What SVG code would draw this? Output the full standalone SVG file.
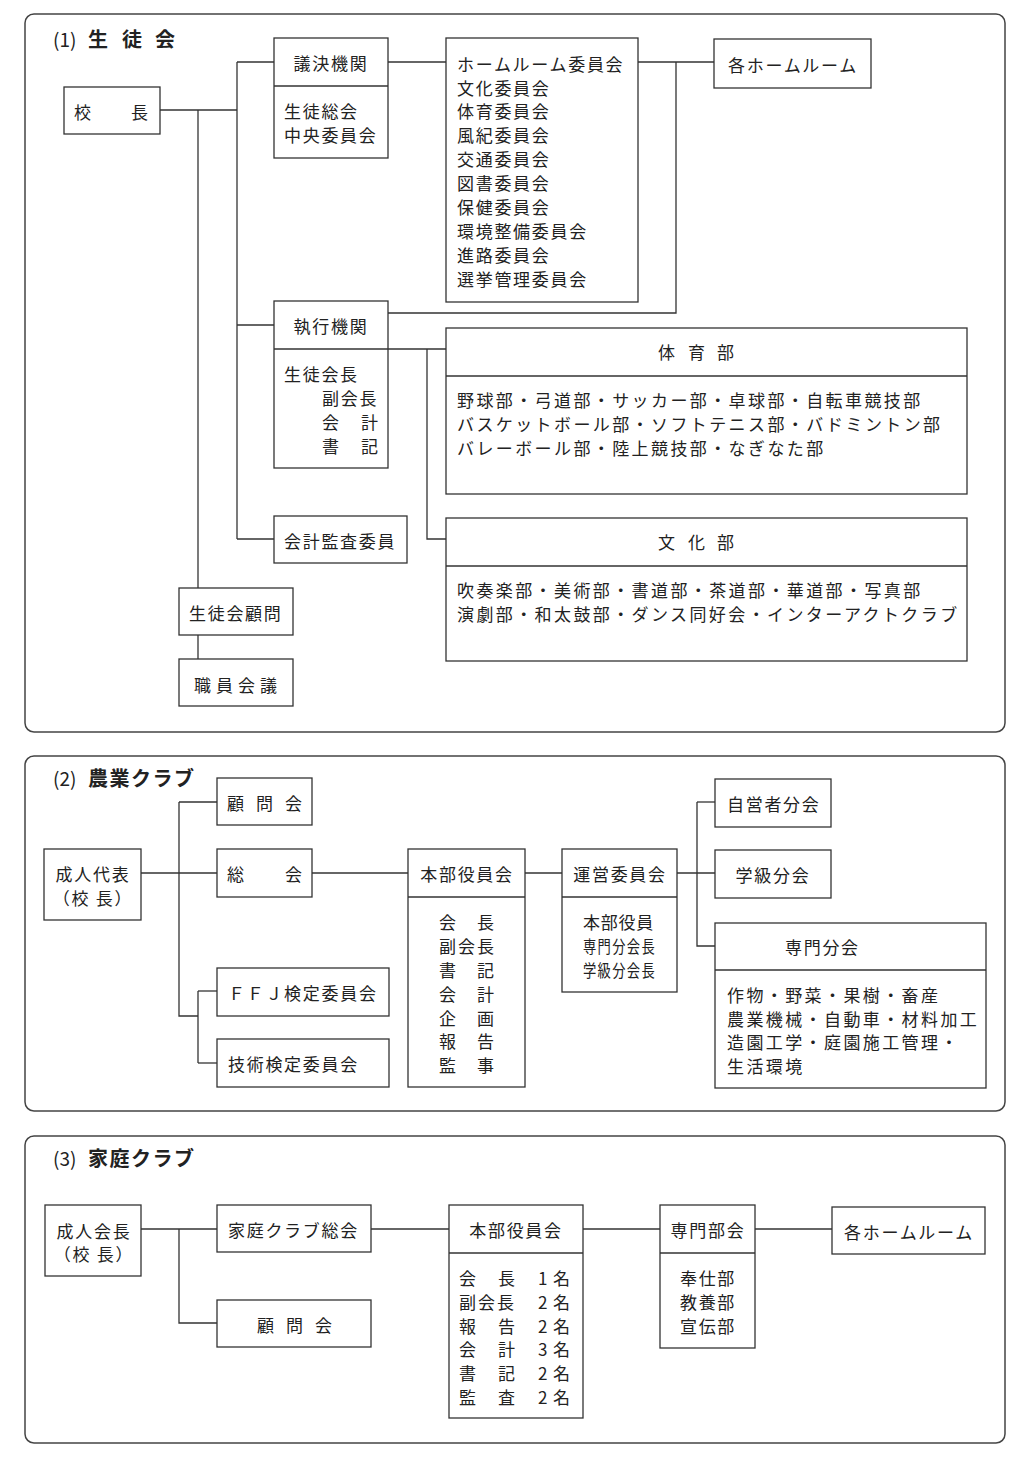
<svg xmlns="http://www.w3.org/2000/svg" width="1026" height="1482" viewBox="0 0 1026 1482">
<style>
text { font-family: "Noto Sans CJK JP", "Noto Sans", sans-serif; font-size: 17px; fill: #222; letter-spacing: 1.7px; dominant-baseline: central; }
.c { text-anchor: middle; }
.w { letter-spacing: 2.4px; }
.ttl { font-size: 20px; font-weight: bold; letter-spacing: 1.5px; }
.num { font-size: 19px; font-weight: normal; letter-spacing: 0; }
.box { fill: #fff; stroke: #333; stroke-width: 1.3; }
.div { stroke: #333; stroke-width: 1.3; }
.frame { fill: none; stroke: #444; stroke-width: 1.5; }
#connectors path { fill: none; stroke: #333; stroke-width: 1.3; }
</style>
<rect width="1026" height="1482" fill="#fff"/>

<g id="frames">
  <rect class="frame" x="25" y="14" width="980" height="718" rx="9"/>
  <rect class="frame" x="25" y="756" width="980" height="355" rx="9"/>
  <rect class="frame" x="25" y="1136" width="980" height="307" rx="9"/>
  <text class="num" x="53" y="38">(1)</text>
  <text class="ttl" x="88 122 155" y="38">生徒会</text>
  <text class="num" x="53" y="777">(2)</text>
  <text class="ttl" x="88" y="777">農業クラブ</text>
  <text class="num" x="53" y="1157">(3)</text>
  <text class="ttl" x="88" y="1157">家庭クラブ</text>
</g>

<g id="connectors">
  <!-- section 1 -->
  <path d="M160,110 H237"/>
  <path d="M198,110 V588"/>
  <path d="M198,635 V659"/>
  <path d="M237,62 V539"/>
  <path d="M237,62 H274"/>
  <path d="M237,325 H274"/>
  <path d="M237,539 H274"/>
  <path d="M388,62 H446"/>
  <path d="M638,62 H714"/>
  <path d="M676,62 V313 H388"/>
  <path d="M388,349 H446"/>
  <path d="M427,349 V539 H446"/>
  <!-- section 2 -->
  <path d="M141,873 H217"/>
  <path d="M179,802 V1016 H198"/>
  <path d="M179,802 H217"/>
  <path d="M198,991 V1063"/>
  <path d="M198,991 H217"/>
  <path d="M198,1063 H217"/>
  <path d="M312,873 H408"/>
  <path d="M525,873 H562"/>
  <path d="M677,873 H715"/>
  <path d="M697,802 V946 H715"/>
  <path d="M697,802 H715"/>
  <!-- section 3 -->
  <path d="M141,1229 H217"/>
  <path d="M179,1229 V1323 H217"/>
  <path d="M371,1229 H449"/>
  <path d="M583,1229 H660"/>
  <path d="M755,1229 H832"/>
</g>

<!-- Section 1 nodes -->
<g id="n-kocho">
  <rect class="box" x="64" y="87" width="96" height="47"/>
  <text x="74 131" y="111">校長</text>
</g>
<g id="n-giketsu">
  <rect class="box" x="274" y="38" width="114" height="120"/>
  <line class="div" x1="274" y1="86" x2="388" y2="86"/>
  <text class="c" x="331" y="62">議決機関</text>
  <text x="284" y="110">生徒総会</text>
  <text x="284" y="134">中央委員会</text>
</g>
<g id="n-iinkai">
  <rect class="box" x="446" y="38" width="192" height="264"/>
  <text x="457" y="63">ホームルーム委員会</text>
  <text x="457" y="87">文化委員会</text>
  <text x="457" y="110">体育委員会</text>
  <text x="457" y="134">風紀委員会</text>
  <text x="457" y="158">交通委員会</text>
  <text x="457" y="182">図書委員会</text>
  <text x="457" y="206">保健委員会</text>
  <text x="457" y="230">環境整備委員会</text>
  <text x="457" y="254">進路委員会</text>
  <text x="457" y="278">選挙管理委員会</text>
</g>
<g id="n-hr1">
  <rect class="box" x="714" y="39" width="157" height="49"/>
  <text class="c" x="793" y="64">各ホームルーム</text>
</g>
<g id="n-shikko">
  <rect class="box" x="274" y="301" width="114" height="167"/>
  <line class="div" x1="274" y1="349" x2="388" y2="349"/>
  <text class="c" x="331" y="325">執行機関</text>
  <text x="284" y="373">生徒会長</text>
  <text x="322" y="397">副会長</text>
  <text x="322 361" y="421">会計</text>
  <text x="322 361" y="445">書記</text>
</g>
<g id="n-taiiku">
  <rect class="box" x="446" y="328" width="521" height="166"/>
  <line class="div" x1="446" y1="376" x2="967" y2="376"/>
  <text x="658 688 717" y="351">体育部</text>
  <text class="w" x="457" y="399">野球部・弓道部・サッカー部・卓球部・自転車競技部</text>
  <text class="w" x="457" y="423">バスケットボール部・ソフトテニス部・バドミントン部</text>
  <text class="w" x="457" y="447">バレーボール部・陸上競技部・なぎなた部</text>
</g>
<g id="n-bunka">
  <rect class="box" x="446" y="518" width="521" height="143"/>
  <line class="div" x1="446" y1="566" x2="967" y2="566"/>
  <text x="658 688 717" y="541">文化部</text>
  <text class="w" x="457" y="589">吹奏楽部・美術部・書道部・茶道部・華道部・写真部</text>
  <text class="w" x="457" y="613">演劇部・和太鼓部・ダンス同好会・インターアクトクラブ</text>
</g>
<g id="n-kansa">
  <rect class="box" x="274" y="516" width="133" height="47"/>
  <text x="284" y="540">会計監査委員</text>
</g>
<g id="n-komon1">
  <rect class="box" x="179" y="588" width="114" height="47"/>
  <text x="189" y="612">生徒会顧問</text>
</g>
<g id="n-shokuin">
  <rect class="box" x="179" y="659" width="114" height="47"/>
  <text x="194 216 238 260" y="684">職員会議</text>
</g>

<!-- Section 2 nodes -->
<g id="n-seijin2">
  <rect class="box" x="44" y="849" width="97" height="71"/>
  <text class="c" x="93" y="873">成人代表</text>
  <text class="c" x="93" y="897">（校 長）</text>
</g>
<g id="n-komon2">
  <rect class="box" x="217" y="778" width="95" height="47"/>
  <text x="227 256 285" y="802">顧問会</text>
</g>
<g id="n-sokai2">
  <rect class="box" x="217" y="849" width="95" height="48"/>
  <text x="227 285" y="873">総会</text>
</g>
<g id="n-ffj">
  <rect class="box" x="217" y="968" width="172" height="48"/>
  <text x="228" y="992">ＦＦＪ検定委員会</text>
</g>
<g id="n-gijutsu">
  <rect class="box" x="217" y="1039" width="172" height="48"/>
  <text x="228" y="1063">技術検定委員会</text>
</g>
<g id="n-honbu2">
  <rect class="box" x="408" y="849" width="117" height="238"/>
  <line class="div" x1="408" y1="897" x2="525" y2="897"/>
  <text class="c" x="467" y="873">本部役員会</text>
  <text x="439 477" y="921">会長</text>
  <text x="439 458 477" y="945">副会長</text>
  <text x="439 477" y="969">書記</text>
  <text x="439 477" y="993">会計</text>
  <text x="439 477" y="1017">企画</text>
  <text x="439 477" y="1040">報告</text>
  <text x="439 477" y="1064">監事</text>
</g>
<g id="n-unei">
  <rect class="box" x="562" y="849" width="115" height="143"/>
  <line class="div" x1="562" y1="897" x2="677" y2="897"/>
  <text class="c" x="620" y="873">運営委員会</text>
  <text x="583" y="921" textLength="72" lengthAdjust="spacing">本部役員</text>
  <text x="583" y="945" textLength="73" lengthAdjust="spacingAndGlyphs">専門分会長</text>
  <text x="583" y="969" textLength="73" lengthAdjust="spacingAndGlyphs">学級分会長</text>
</g>
<g id="n-jiei">
  <rect class="box" x="715" y="779" width="116" height="48"/>
  <text x="727" y="803">自営者分会</text>
</g>
<g id="n-gakkyu">
  <rect class="box" x="715" y="850" width="116" height="48"/>
  <text class="c" x="773" y="874">学級分会</text>
</g>
<g id="n-senmon2">
  <rect class="box" x="715" y="923" width="271" height="165"/>
  <line class="div" x1="715" y1="970" x2="986" y2="970"/>
  <text x="785" y="946">専門分会</text>
  <text class="w" x="727" y="994">作物・野菜・果樹・畜産</text>
  <text class="w" x="727" y="1018">農業機械・自動車・材料加工</text>
  <text class="w" x="727" y="1041">造園工学・庭園施工管理・</text>
  <text class="w" x="727" y="1065">生活環境</text>
</g>

<!-- Section 3 nodes -->
<g id="n-seijin3">
  <rect class="box" x="45" y="1205" width="96" height="71"/>
  <text class="c" x="94" y="1230">成人会長</text>
  <text class="c" x="94" y="1253">（校 長）</text>
</g>
<g id="n-sokai3">
  <rect class="box" x="217" y="1205" width="154" height="47"/>
  <text x="228" y="1229">家庭クラブ総会</text>
</g>
<g id="n-komon3">
  <rect class="box" x="217" y="1300" width="154" height="47"/>
  <text x="257 286 315" y="1324">顧問会</text>
</g>
<g id="n-honbu3">
  <rect class="box" x="449" y="1205" width="134" height="213"/>
  <line class="div" x1="449" y1="1253" x2="583" y2="1253"/>
  <text class="c" x="516" y="1229">本部役員会</text>
  <text x="459 498 538 553" y="1277">会長1名</text>
  <text x="459 478 497 538 553" y="1301">副会長2名</text>
  <text x="459 498 538 553" y="1325">報告2名</text>
  <text x="459 498 538 553" y="1348">会計3名</text>
  <text x="459 498 538 553" y="1372">書記2名</text>
  <text x="459 498 538 553" y="1396">監査2名</text>
</g>
<g id="n-senmon3">
  <rect class="box" x="660" y="1205" width="95" height="143"/>
  <line class="div" x1="660" y1="1253" x2="755" y2="1253"/>
  <text class="c" x="708" y="1229">専門部会</text>
  <text class="c" x="708" y="1277">奉仕部</text>
  <text class="c" x="708" y="1301">教養部</text>
  <text class="c" x="708" y="1325">宣伝部</text>
</g>
<g id="n-hr3">
  <rect class="box" x="832" y="1207" width="153" height="47"/>
  <text class="c" x="909" y="1231">各ホームルーム</text>
</g>
</svg>
